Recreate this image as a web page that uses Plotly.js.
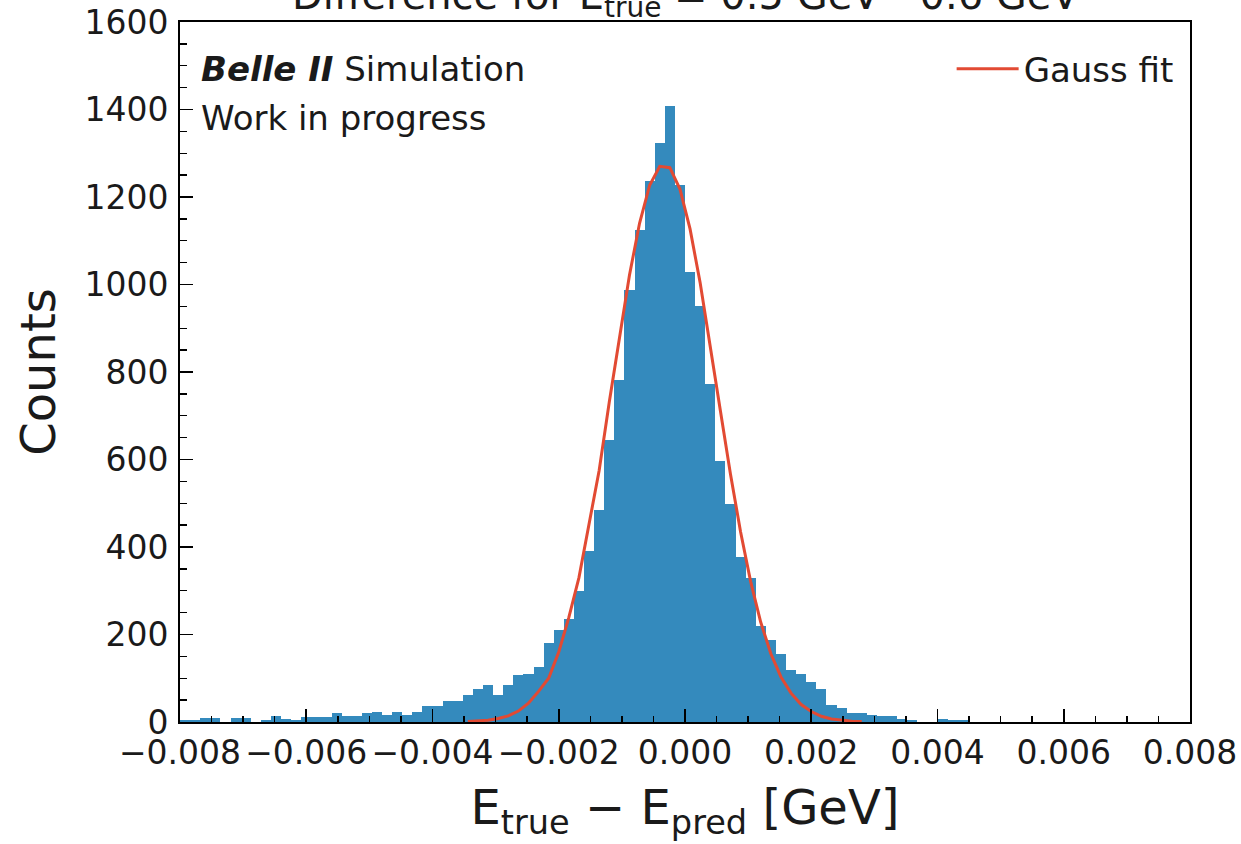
<!DOCTYPE html>
<html>
<head>
<meta charset="utf-8">
<script src="https://cdn.plot.ly/plotly-3.0.1.min.js"></script>
<style>
html,body{margin:0;padding:0;background:#ffffff;}
#chart{width:1241px;height:844px;}
</style>
</head>
<body>
<div id="chart"></div>
<script>
// Histogram definition: 100 bins from -0.008 to 0.008
const binLow = -0.008;
const binWidth = 0.00016;

// Counts per bin
const counts = [
  4, 4, 9, 9, 0, 9, 9, 0, 4, 13,
  8, 4, 11, 11, 11, 21, 14, 14, 21, 24,
  17, 24, 17, 24, 37, 37, 49, 49, 62, 76,
  85, 62, 85, 107, 110, 126, 181, 210, 236, 300,
  392, 484, 644, 781, 988, 1125, 1236, 1324, 1409, 1228,
  1029, 952, 773, 596, 499, 377, 329, 219, 188, 155,
  120, 109, 91, 75, 40, 31, 21, 21, 17, 14,
  14, 8, 5, 0, 0, 8, 5, 5, 0, 0,
  0, 0, 0, 0, 0, 0, 0, 0, 0, 0,
  0, 0, 0, 0, 0, 0, 0, 0, 0, 0
];

// Gauss fit curve, sampled at bin centres, starting at bin index 28
const fitStartBin = 28;
const fitCounts = [
  1.0, 2.1, 4.2, 7.9, 14, 25, 43, 70, 100, 160,
  239, 330, 450, 575, 731, 881, 1021, 1140, 1227, 1270,
  1267, 1218, 1127, 1004, 862, 712, 567, 435, 321, 228,
  156, 103, 66, 40, 24, 13, 7, 4, 2, 1
];

const xTickVals = [-0.008, -0.006, -0.004, -0.002, 0.0, 0.002, 0.004, 0.006, 0.008];
const yTickVals = [0, 200, 400, 600, 800, 1000, 1200, 1400, 1600];

const titleText = 'Difference for E<sub>true</sub> = 0.5 GeV - 0.6 GeV';
const xTitle = 'E<sub>true</sub> \u2212 E<sub>pred</sub> [GeV]';
const yTitle = 'Counts';
const legendName = 'Gauss fit';
const tagLine1 = '<b><i>Belle II</i></b> Simulation';
const tagLine2 = 'Work in progress';

const binCenters = counts.map((_, i) => binLow + binWidth * (i + 0.5));
const fitX = fitCounts.map((_, i) => binCenters[fitStartBin + i]);

const FONT = 'DejaVu Sans, Verdana, sans-serif';
const TXT = '#1a1a1a';

const traces = [
  {
    type: 'bar',
    x: binCenters,
    y: counts,
    width: binWidth,
    marker: {color: '#348ABD', line: {width: 0}},
    showlegend: false,
    hoverinfo: 'x+y'
  },
  {
    type: 'scatter',
    mode: 'lines',
    x: fitX,
    y: fitCounts,
    name: legendName,
    line: {color: '#E24A33', width: 3},
    showlegend: true
  }
];

const axisCommon = {
  showline: true,
  mirror: true,
  linecolor: '#000000',
  linewidth: 2,
  showgrid: false,
  zeroline: false,
  ticks: 'inside',
  tickcolor: '#000000',
  tickwidth: 1.6,
  ticklen: 13,
  tickfont: {family: FONT, size: 33, color: TXT}
};

const layout = {
  width: 1241,
  height: 844,
  paper_bgcolor: '#ffffff',
  plot_bgcolor: '#ffffff',
  margin: {l: 180, r: 51, t: 22, b: 122, pad: 0},
  bargap: 0,
  showlegend: true,
  legend: {
    x: 0.764, xanchor: 'left',
    y: 0.974, yanchor: 'top',
    bgcolor: 'rgba(0,0,0,0)',
    borderwidth: 0,
    itemwidth: 62,
    font: {family: FONT, size: 34, color: TXT}
  },
  xaxis: Object.assign({}, axisCommon, {
    range: [-0.008, 0.008],
    tickvals: xTickVals,
    tickformat: '.3f',
    ticklabelstandoff: 0,
    minor: {dtick: 0.0005, ticks: 'inside', ticklen: 6, tickwidth: 1.4, tickcolor: '#000000', showgrid: false},
    title: {text: xTitle, font: {family: FONT, size: 48, color: TXT}, standoff: 20}
  }),
  yaxis: Object.assign({}, axisCommon, {
    range: [0, 1600],
    tickvals: yTickVals,
    tickformat: 'd',
    ticklabelstandoff: 3,
    minor: {dtick: 50, ticks: 'inside', ticklen: 7, tickwidth: 1.4, tickcolor: '#000000', showgrid: false},
    title: {text: yTitle, font: {family: FONT, size: 48, color: TXT}, standoff: 14}
  }),
  annotations: [
    {
      text: titleText, xref: 'paper', yref: 'paper', x: 0.5, y: 1.034,
      xanchor: 'center', yanchor: 'middle', showarrow: false,
      font: {family: FONT, size: 40, color: TXT}
    },
    {
      text: tagLine1, xref: 'paper', yref: 'paper', x: 0.019, y: 0.933,
      xanchor: 'left', yanchor: 'middle', showarrow: false,
      font: {family: FONT, size: 34, color: TXT}
    },
    {
      text: tagLine2, xref: 'paper', yref: 'paper', x: 0.019, y: 0.863,
      xanchor: 'left', yanchor: 'middle', showarrow: false,
      font: {family: FONT, size: 34, color: TXT}
    }
  ]
};

Plotly.newPlot('chart', traces, layout, {displayModeBar: false, staticPlot: true});
</script>
</body>
</html>
